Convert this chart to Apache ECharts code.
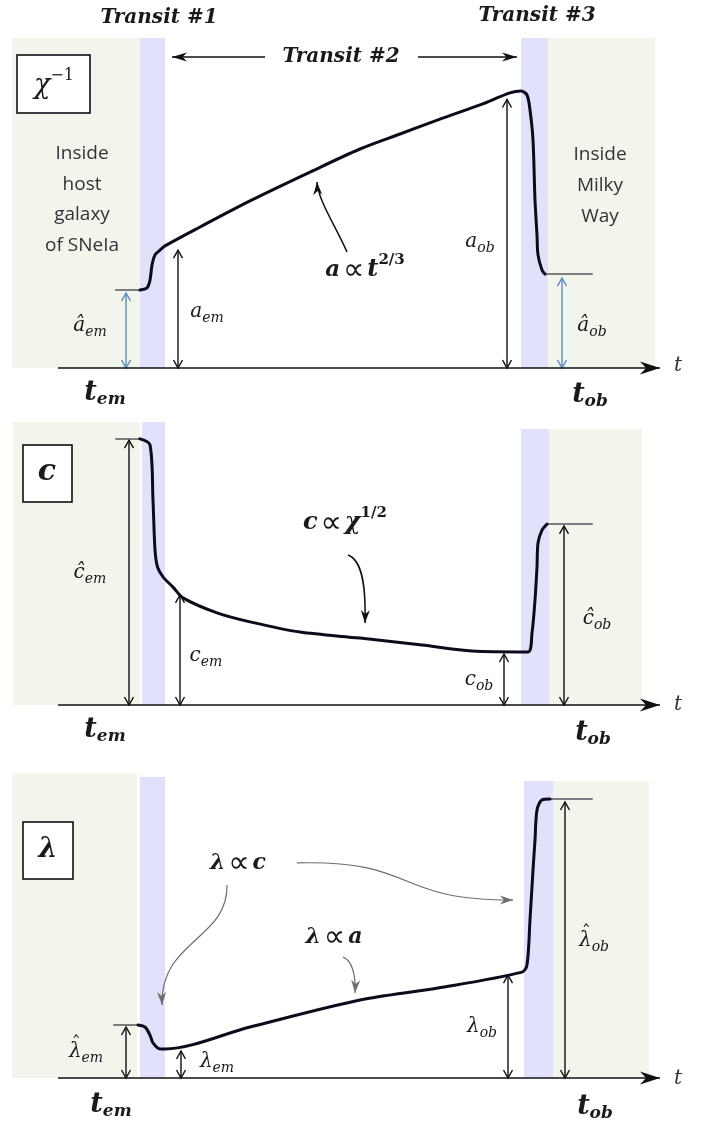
<!DOCTYPE html>
<html><head><meta charset="utf-8">
<script src="https://cdn.jsdelivr.net/npm/echarts@6/dist/echarts.min.js"></script>
<style>html,body{margin:0;padding:0;background:#fff}#c{width:715px;height:1125px}</style>
</head><body><div id="c"></div>
<script>
// ---------- DATA (x: relative time units, y: relative quantity units) ----------
const xRange = [0, 130];
const yMax = [110, 95, 102];

// Panel 1: chi^-1 (scale factor a)
const p1Curve = [[26,26],[27.4,26.7],[28,29.3],[28.4,34.3],[29,37.7],[30,39.3],[31,40.7],[38,47],[48,55.7],[60,65.3],[70,73],[78,78],[85.6,82.7],[94,87.7],[100,91.7],[102.2,92.3],[103.4,91],[104,86],[104.6,76],[105,56],[105.4,44.3],[105.6,37.7],[106.4,32.7],[107,31.3]];
const p1StubL = [[21.2,26],[26,26]];
const p1StubR = [[107,31.3],[116.4,31.3]];
const p1Arrows = [[33.6,0,39.3],[99.4,0,89.5]];
const p1HatArrows = [[23.2,0,25],[110.4,0,30]];
const p1Green = [[0.4,26,110],[107.6,129,110]];
const p1Purple = [[26,31,110],[102.2,107.6,110]];
const p1Transit2 = [[51,103.7,32.4,103.7],[81.6,103.7,101.4,103.7]];
const p1Curved = [[67.4,38.7,65,47.7,61.6,56,61.4,62]];

// Panel 2: c
const p2Curve = [[26,88.7],[28,86.7],[28.6,68.3],[29,51.7],[29.5,46],[30.6,42.7],[32.6,39.3],[34.6,35.7],[41.4,30.7],[48,27.7],[58,24.3],[70,22.3],[82.4,20],[92.4,18],[103.6,17.7],[104.4,24],[105,35],[105.4,46],[105.6,54],[106.4,58.3],[107.4,60.3]];
const p2StubL = [[21.2,88.7],[26,88.7]];
const p2StubR = [[107.4,60.3],[116.4,60.3]];
const p2Arrows = [[23.8,0,88.3],[34,0,36.7],[98.8,0,17],[110.8,0,59.7]];
const p2Green = [[0.6,26,94.3],[107.8,126.4,92]];
const p2Purple = [[26.4,31,94.3],[102.2,107.8,92]];
const p2Curved = [[67.6,50,70.4,48.3,71.2,40,71,27.3]];

// Panel 3: lambda
const p3Curve = [[25.6,17.7],[27,17],[28,14.3],[28.6,11.7],[30,9.7],[31,9.7],[48,17],[70,26],[85.6,30],[102.4,35.3],[103.4,37.7],[104,52.7],[104.6,69.3],[105,79.3],[105.4,89.3],[106.4,92.7],[108,93]];
const p3StubL = [[20.8,17.7],[25.6,17.7]];
const p3StubR = [[108,93],[116.4,93]];
const p3Arrows = [[23.2,0,17],[34.2,0,9],[99.6,0,34.3],[111,0,92]];
const p3Green = [[0.4,25.4,101.7],[108.6,127.8,99]];
const p3Purple = [[26,31,100.3],[102.8,108.6,99]];
const p3Curved = [[43.4,64.3,43.6,46,30,46,30.4,24.3],[57.4,71.7,82,72.7,76,59.3,100.6,59.3],[66.6,40.3,68.4,39.3,69.2,34.3,69,28.3]];

const axisLine = [[9.6,0,130,0]];

// ---------- RENDERING ----------
const chart = echarts.init(document.getElementById('c'), null, {renderer:'canvas'});
const GREEN = '#f2f5eb', PURPLE = '#e1e1fb', CURVE = '#0b0b1c', BLUE = '#5a8ac6', GRAY='#7d7d7d';
const grids = [
  {left:10, right:55, top:38, height:330},
  {left:10, right:55, top:420, height:285},
  {left:10, right:55, top:772, height:306}
];

function regionSeries(gi, data, color){
  return {type:'custom', xAxisIndex:gi, yAxisIndex:gi, z:1, silent:true, clip:false, data,
    renderItem(params, api){
      const p0 = api.coord([api.value(0), 0]);
      const p1 = api.coord([api.value(1), api.value(2)]);
      return {type:'rect', shape:{x:p0[0], y:p1[1], width:p1[0]-p0[0], height:p0[1]-p1[1]}, style:{fill:color}};
    }};
}
function lineSeries(gi, data, color, w, z, smooth){
  return {type:'line', xAxisIndex:gi, yAxisIndex:gi, data, symbol:'none', smooth:smooth||false,
    z:z||4, silent:true, lineStyle:{color, width:w, join:'round', cap:'round'}};
}
function dblArrowSeries(gi, data, color){
  return {type:'custom', xAxisIndex:gi, yAxisIndex:gi, z:5, silent:true, clip:false, data,
    renderItem(params, api){
      const a = api.coord([api.value(0), api.value(1)]);
      const b = api.coord([api.value(0), api.value(2)]);
      const h = 8, w = 4.5, st = {stroke:color, lineWidth:1.4, fill:null};
      return {type:'group', children:[
        {type:'line', shape:{x1:a[0],y1:a[1],x2:b[0],y2:b[1]}, style:st},
        {type:'polyline', shape:{points:[[a[0]-w,a[1]-h],[a[0],a[1]],[a[0]+w,a[1]-h]]}, style:st},
        {type:'polyline', shape:{points:[[b[0]-w,b[1]+h],[b[0],b[1]],[b[0]+w,b[1]+h]]}, style:st}
      ]};
    }};
}
function head(tip, from, len, half, color){
  let dx = tip[0]-from[0], dy = tip[1]-from[1];
  const L = Math.hypot(dx,dy) || 1; dx/=L; dy/=L;
  const px = -dy, py = dx;
  const pts = [
    tip,
    [tip[0]-dx*len+px*half, tip[1]-dy*len+py*half],
    [tip[0]-dx*len*0.7, tip[1]-dy*len*0.7],
    [tip[0]-dx*len-px*half, tip[1]-dy*len-py*half]
  ];
  return {type:'polygon', shape:{points:pts}, style:{fill:color}};
}
function straightArrowSeries(gi, data, color, lw, len, half){
  return {type:'custom', xAxisIndex:gi, yAxisIndex:gi, z:5, silent:true, clip:false, data,
    renderItem(params, api){
      const a = api.coord([api.value(0), api.value(1)]);
      const b = api.coord([api.value(2), api.value(3)]);
      return {type:'group', children:[
        {type:'line', shape:{x1:a[0],y1:a[1],x2:b[0],y2:b[1]}, style:{stroke:color, lineWidth:lw}},
        head(b, a, len, half, color)
      ]};
    }};
}
function curvedArrowSeries(gi, data, color, lw, len, half){
  return {type:'custom', xAxisIndex:gi, yAxisIndex:gi, z:5, silent:true, clip:false, data,
    renderItem(params, api){
      const p = [0,1,2,3].map(i => api.coord([api.value(2*i), api.value(2*i+1)]));
      return {type:'group', children:[
        {type:'bezierCurve', shape:{x1:p[0][0],y1:p[0][1],cpx1:p[1][0],cpy1:p[1][1],cpx2:p[2][0],cpy2:p[2][1],x2:p[3][0],y2:p[3][1]},
          style:{stroke:color, lineWidth:lw, fill:null}},
        head(p[3], p[2], len, half, color)
      ]};
    }};
}

// ---------- TEXT ----------
const mctx = document.createElement('canvas').getContext('2d');
function tw(s, f){ mctx.font = f; return mctx.measureText(s).width; }
const graphics = [];
const TXT = '#1a1a1a';
function label(cx, cy, parts, align){
  const widths = parts.map(p => tw(p[0], p[1]));
  const total = widths.reduce((a,b)=>a+b, 0);
  let x = align === 'left' ? cx : cx - total/2;
  parts.forEach((p,i) => {
    graphics.push({type:'text', z:100, x, y: cy + (p[2]||0), silent:true,
      style:{text:p[0], font:p[1], fill:p[3]||TXT, align:'left', verticalAlign:'middle'}});
    if (p[4] === 'hat') {
      graphics.push({type:'text', z:100, x: x + widths[i]/2 + 1, y: cy - 7, silent:true,
        style:{text:'ˆ', font:'18px "DejaVu Serif"', fill:p[3]||TXT, align:'center', verticalAlign:'middle'}});
    }
    x += widths[i];
  });
}
function box(x, y, w, h){
  graphics.push({type:'rect', z:99, shape:{x, y, width:w, height:h}, style:{fill:'#fff', stroke:'#000', lineWidth:1.5}});
}
const SER = '"DejaVu Serif"';
const MI = 'italic 20px ' + SER, MS = 'italic 14px ' + SER;
const BI = 'bold italic 20px ' + SER;
const TB = 'bold italic 27px ' + SER, TS = 'bold italic 17px ' + SER;
const SANS = '19px "Open Sans"', SANSC = '#333333';
const PROP = '30px "DejaVu Sans"', SP = '9px ' + SER;

// Panel 1 text
label(159, 18, [['Transit #1', BI]]);
label(537, 16, [['Transit #3', BI]]);
label(341, 57, [['Transit #2', BI]]);
box(17, 55, 73, 58);
label(54, 86, [['χ', 'italic 27px ' + SER, 0], ['−1', '16px ' + SER, -10]]);
['Inside','host','galaxy','of SNeIa'].forEach((s,i)=>label(82, 154 + i*30.5, [[s, SANS, 0, SANSC]]));
['Inside','Milky','Way'].forEach((s,i)=>label(600, 155 + i*31, [[s, SANS, 0, SANSC]]));
label(90, 326, [['â', MI, 0], ['em', MS, 6]]);
label(207, 312, [['a', MI, 0], ['em', MS, 6]]);
label(480, 242, [['a', MI, 0], ['ob', MS, 6]]);
label(592, 326, [['â', MI, 0], ['ob', MS, 6]]);
label(365, 270, [['a', 'bold italic 23px ' + SER, 0], [' ', SP, 0], ['∝', PROP, 1], [' ', SP, 0], ['t', 'bold italic 24px ' + SER, 0], ['2/3', 'bold 15px ' + SER, -10]]);
label(105, 393, [['t', TB, 0], ['em', TS, 7]]);
label(590, 395, [['t', TB, 0], ['ob', TS, 7]]);
label(678, 366, [['t', 'italic 20px ' + SER, 0, '#333']]);

// Panel 2 text
box(23, 445, 49, 57);
label(47, 472, [['c', 'bold italic 30px ' + SER, 0]]);
label(90, 573, [['ĉ', MI, 0], ['em', MS, 6]]);
label(206, 656, [['c', MI, 0], ['em', MS, 6]]);
label(479, 680, [['c', MI, 0], ['ob', MS, 6]]);
label(597, 619, [['ĉ', MI, 0], ['ob', MS, 6]]);
label(345, 523, [['c', 'bold italic 24px ' + SER, 0], [' ', SP, 0], ['∝', PROP, 1], [' ', SP, 0], ['χ', 'bold italic 24px ' + SER, 0], ['1/2', 'bold 15px ' + SER, -10]]);
label(105, 730, [['t', TB, 0], ['em', TS, 7]]);
label(593, 733, [['t', TB, 0], ['ob', TS, 7]]);
label(678, 705, [['t', 'italic 20px ' + SER, 0, '#333']]);

// Panel 3 text
box(23, 822, 50, 57);
label(48, 850, [['λ', 'bold italic 27px ' + SER, 0]]);
label(86, 1052, [['λ', MI, 0, null, 'hat'], ['em', MS, 6]]);
label(217, 1062, [['λ', MI, 0], ['em', MS, 6]]);
label(482, 1027, [['λ', MI, 0], ['ob', MS, 6]]);
label(594, 941, [['λ', MI, 0, null, 'hat'], ['ob', MS, 6]]);
label(238, 863, [['λ', 'bold italic 22px ' + SER, 0], [' ', SP, 0], ['∝', PROP, 1], [' ', SP, 0], ['c', 'bold italic 22px ' + SER, 0]]);
label(334, 937, [['λ', 'bold italic 22px ' + SER, 0], [' ', SP, 0], ['∝', PROP, 1], [' ', SP, 0], ['a', 'bold italic 22px ' + SER, 0]]);
label(111, 1105, [['t', TB, 0], ['em', TS, 7]]);
label(595, 1107, [['t', TB, 0], ['ob', TS, 7]]);
label(678, 1079, [['t', 'italic 20px ' + SER, 0, '#333']]);

const series = [];
const panels = [
  {curve:p1Curve, stubs:[p1StubL,p1StubR], arrows:p1Arrows, hat:p1HatArrows, green:p1Green, purple:p1Purple, curved:p1Curved, curvedColor:'#111', curvedW:1.5},
  {curve:p2Curve, stubs:[p2StubL,p2StubR], arrows:p2Arrows, hat:[], green:p2Green, purple:p2Purple, curved:p2Curved, curvedColor:'#111', curvedW:1.5},
  {curve:p3Curve, stubs:[p3StubL,p3StubR], arrows:p3Arrows, hat:[], green:p3Green, purple:p3Purple, curved:p3Curved, curvedColor:'#6e6e6e', curvedW:1.2}
];
panels.forEach((p, gi) => {
  series.push(regionSeries(gi, p.green, GREEN));
  series.push(regionSeries(gi, p.purple, PURPLE));
  p.stubs.forEach(s => series.push(lineSeries(gi, s, GRAY, 2, 3)));
  series.push(lineSeries(gi, p.curve, CURVE, 3, 4, 0.3));
  series.push(dblArrowSeries(gi, p.arrows, '#111'));
  if (p.hat.length) series.push(dblArrowSeries(gi, p.hat, BLUE));
  series.push(straightArrowSeries(gi, axisLine, '#111', 1.5, 20, 6.5));
  series.push(curvedArrowSeries(gi, p.curved, p.curvedColor, p.curvedW, 13, 4.5));
});
series.push(straightArrowSeries(0, p1Transit2, '#111', 1.5, 15, 4.5));

chart.setOption({
  animation:false,
  backgroundColor:'#fff',
  grid: grids,
  xAxis: grids.map((g,i)=>({type:'value', gridIndex:i, min:xRange[0], max:xRange[1], show:false})),
  yAxis: grids.map((g,i)=>({type:'value', gridIndex:i, min:0, max:yMax[i], show:false})),
  graphic: graphics,
  series
});
</script></body></html>
